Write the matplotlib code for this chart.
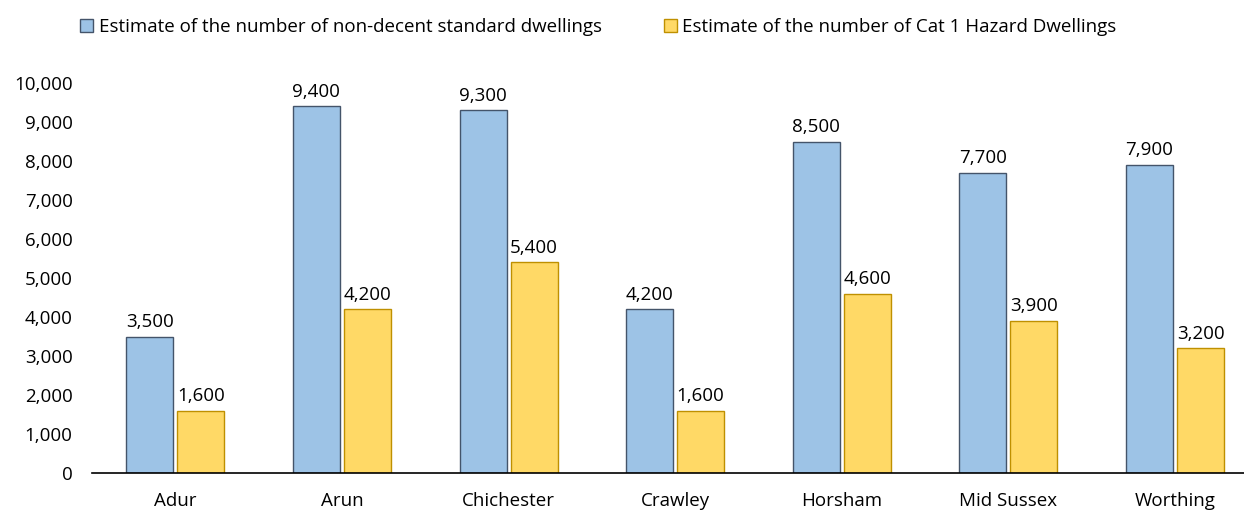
import matplotlib
matplotlib.use("Agg")
import matplotlib.pyplot as plt
from matplotlib.ticker import FuncFormatter
import numpy as np

plt.rcParams['font.family'] = ['Open Sans', 'DejaVu Sans']

districts = ["Adur", "Arun", "Chichester", "Crawley", "Horsham", "Mid Sussex", "Worthing"]
non_decent = [3500, 9400, 9300, 4200, 8500, 7700, 7900]
cat1_hazard = [1600, 4200, 5400, 1600, 4600, 3900, 3200]
series_names = [
    "Estimate of the number of non-decent standard dwellings",
    "Estimate of the number of Cat 1 Hazard Dwellings",
]

blue_fill, blue_edge = "#9DC3E6", "#44546A"
gold_fill, gold_edge = "#FFD966", "#BF9000"

fig = plt.figure(figsize=(12.44, 5.11), dpi=100)
ax = fig.add_axes([92 / 1244, 1 - 473 / 511, 1 - 92 / 1244, (473 - 83) / 511])

x = np.arange(len(districts))
w = 0.282
off = 0.153
fs = 13.5

b1 = ax.bar(x - off, non_decent, w, color=blue_fill, edgecolor=blue_edge, linewidth=1.0,
            label=series_names[0])
b2 = ax.bar(x + off, cat1_hazard, w, color=gold_fill, edgecolor=gold_edge, linewidth=1.0,
            label=series_names[1])

for bars, vals in ((b1, non_decent), (b2, cat1_hazard)):
    for r, v in zip(bars, vals):
        ax.annotate(f"{v:,}", (r.get_x() + r.get_width() / 2, v), xytext=(0, 4),
                    textcoords="offset points", ha="center", va="bottom", fontsize=fs,
                    color="#000000")

ax.set_ylim(0, 10000)
ax.set_yticks(np.arange(0, 10001, 1000))
ax.yaxis.set_major_formatter(FuncFormatter(lambda v, p: f"{int(v):,}"))
ax.set_xlim(-0.5, 6.414)
ax.set_xticks(x)
ax.set_xticklabels(districts)
ax.tick_params(axis="both", length=0, labelsize=fs, colors="#000000")
ax.tick_params(axis="y", pad=14)
ax.tick_params(axis="x", pad=14)
for s in ("top", "right", "left"):
    ax.spines[s].set_visible(False)
ax.spines["bottom"].set_color("#000000")
ax.spines["bottom"].set_linewidth(1.2)

fig.legend(handles=[b1, b2], labels=series_names, loc="upper center",
           bbox_to_anchor=(0.481, 1.0), ncol=2, frameon=False, fontsize=fs,
           handlelength=0.7, handleheight=0.7, handletextpad=0.3, columnspacing=3.3,
           borderaxespad=0.55)

fig.savefig("out.png", dpi=100)
